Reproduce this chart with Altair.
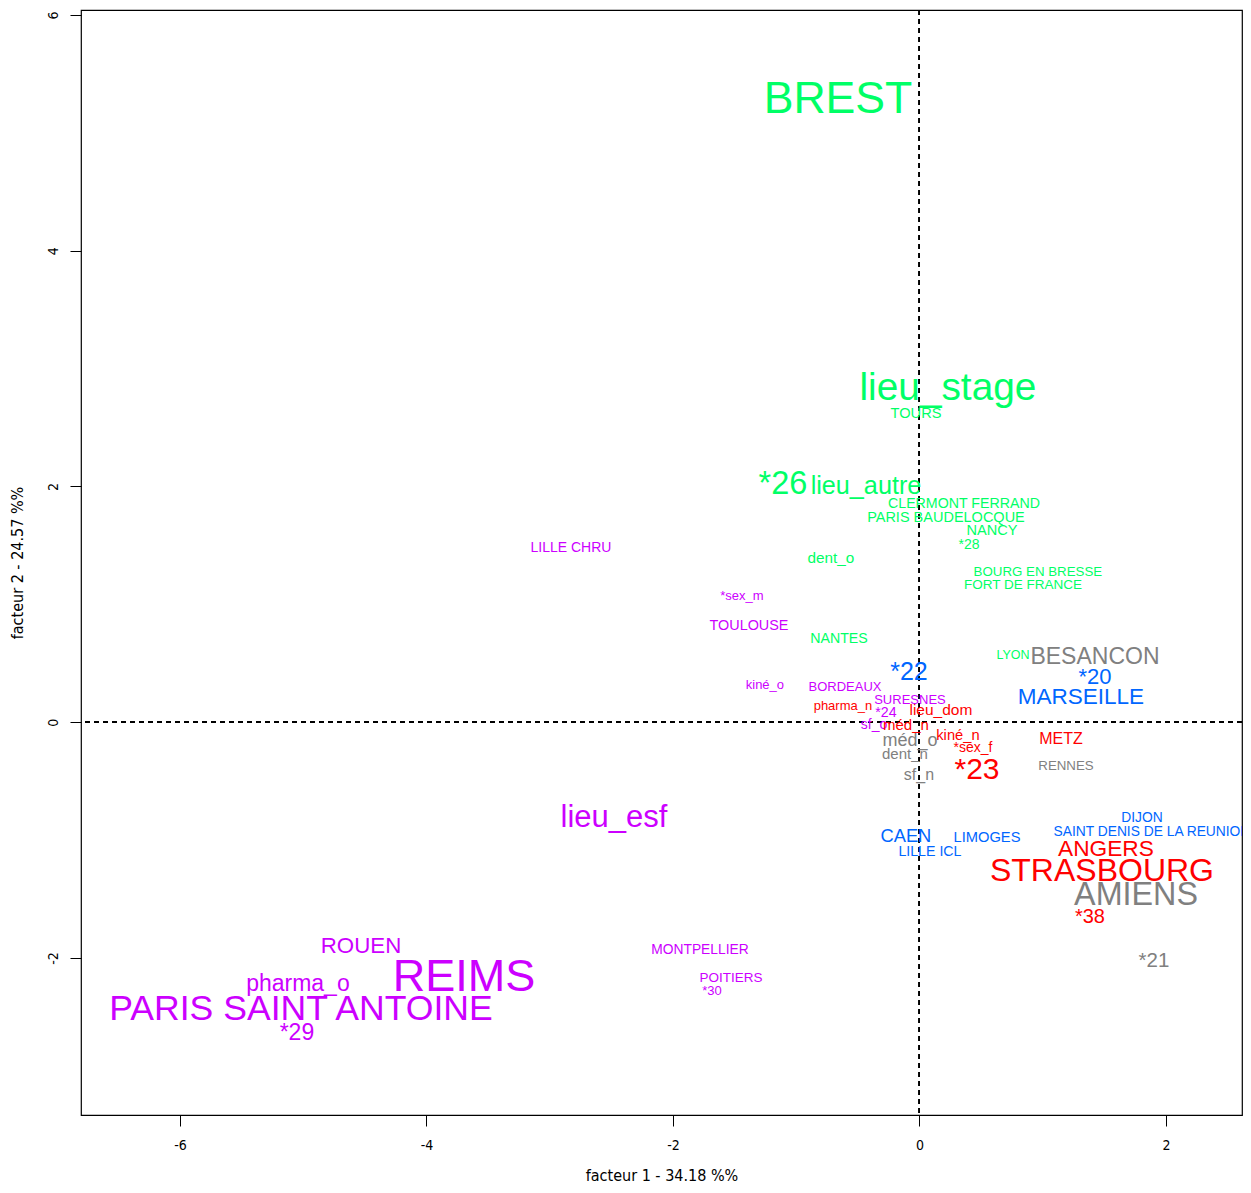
import altair as alt
import pandas as pd

# Labels of the factor map (facteur 1 / facteur 2)
labels = [
    "BREST", "lieu_stage", "TOURS", "*26", "lieu_autre", "CLERMONT FERRAND",
    "PARIS BAUDELOCQUE", "NANCY", "*28", "BOURG EN BRESSE", "FORT DE FRANCE",
    "dent_o", "NANTES", "LYON", "BESANCON", "*20", "MARSEILLE", "*22",
    "LILLE CHRU", "*sex_m", "TOULOUSE", "kiné_o", "BORDEAUX", "SURESNES",
    "pharma_n", "*24", "lieu_dom", "sf_o", "méd_n", "méd_o", "kiné_n",
    "dent_n", "*sex_f", "*23", "sf_n", "METZ", "RENNES", "lieu_esf", "CAEN",
    "LIMOGES", "LILLE ICL", "DIJON", "SAINT DENIS DE LA REUNION", "ANGERS",
    "STRASBOURG", "AMIENS", "*38", "*21", "ROUEN", "REIMS", "pharma_o",
    "PARIS SAINT ANTOINE", "*29", "MONTPELLIER", "POITIERS", "*30",
]
facteur1 = [
    -0.661, 0.231, -0.028, -1.108, -0.434, 0.361,
    0.215, 0.588, 0.402, 0.961, 0.840,
    -0.718, -0.653, 0.759, 1.424, 1.424, 1.310, -0.085,
    -2.828, -1.440, -1.383, -1.254, -0.604, -0.077,
    -0.621, -0.272, 0.174, -0.369, -0.110, -0.077, 0.312,
    -0.118, 0.434, 0.467, -0.004, 1.148, 1.189, -2.479, -0.110,
    0.548, 0.085, 1.805, 1.886, 1.513,
    1.481, 1.757, 1.383, 1.903, -4.531, -3.696, -5.043,
    -5.018, -5.051, -1.781, -1.529, -1.684,
]
facteur2 = [
    5.280, 2.836, 2.615, 2.021, 2.004, 1.852,
    1.733, 1.623, 1.504, 1.275, 1.165,
    1.394, 0.707, 0.571, 0.554, 0.384, 0.214, 0.426,
    1.479, 1.071, 0.817, 0.316, 0.299, 0.189,
    0.138, 0.079, 0.104, -0.023, -0.023, -0.159, -0.117,
    -0.269, -0.218, -0.405, -0.447, -0.142, -0.371, -0.812, -0.973,
    -0.982, -1.101, -0.812, -0.931, -1.076,
    -1.262, -1.466, -1.653, -2.026, -1.898, -2.161, -2.220,
    -2.432, -2.636, -1.932, -2.170, -2.281,
]
# cluster of each label (1 red, 2 green, 3 blue, 4 magenta, 5 gray)
classe = [
    2, 2, 2, 2, 2, 2,
    2, 2, 2, 2, 2,
    2, 2, 2, 5, 3, 3, 3,
    4, 4, 4, 4, 4, 4,
    1, 4, 1, 4, 1, 5, 1,
    5, 1, 1, 5, 1, 5, 4, 3,
    3, 3, 3, 3, 1,
    1, 5, 1, 5, 4, 4, 4,
    4, 4, 4, 4, 4,
]
# contribution (drawn as text size)
contrib = [
    44.6, 38.8, 14.6, 32.5, 25.2, 14.2,
    14.5, 14.6, 14, 13.3, 13.5,
    15.3, 14.2, 12.5, 23, 22, 22.5, 25,
    14, 13, 14.4, 13, 13, 13,
    13, 14.2, 15.5, 14, 15, 18, 14.7,
    15, 14, 30, 16, 16, 13.3, 31, 18.3,
    14.7, 14.2, 13.8, 13.8, 22.7,
    32, 32.3, 20, 20.5, 22.3, 45, 23,
    35.6, 23, 13.8, 13.5, 13,
]

classes = [1, 2, 3, 4, 5]
couleurs = ["#FF0000", "#00FF66", "#0066FF", "#CC00FF", "#808080"]

df = pd.DataFrame({
    "label": labels,
    "f1": facteur1,
    "f2": facteur2,
    "classe": classe,
    "contrib": contrib,
})

axis_font = "Liberation Sans Narrow, Arial Narrow, DejaVu Sans Condensed, Liberation Sans, sans-serif"

xscale = alt.Scale(domain=[-6.803, 2.617], nice=False, zero=False)
yscale = alt.Scale(domain=[-3.332, 6.042], nice=False, zero=False)

text = alt.Chart(df).mark_text(
    font="Liberation Sans", align="center", baseline="middle", clip=True
).encode(
    x=alt.X("f1:Q", scale=xscale, axis=alt.Axis(
        values=[-6, -4, -2, 0, 2], grid=False, domain=False,
        tickSize=11, tickColor="black", labelPadding=12,
        labelFont=axis_font, labelFontSize=14, labelColor="black",
        labelExpr="datum.value",
        title="facteur  1  - 34.18 %%", titleFont=axis_font, titleFontSize=16,
        titleFontWeight="normal", titleColor="black",
        titleY=65, titleBaseline="alphabetic",
    )),
    y=alt.Y("f2:Q", scale=yscale, axis=alt.Axis(
        values=[-2, 0, 2, 4, 6], grid=False, domain=False,
        tickSize=11, tickColor="black", labelPadding=10,
        labelAngle=-90, labelAlign="center", labelBaseline="bottom",
        labelFont=axis_font, labelFontSize=14, labelColor="black",
        labelExpr="datum.value",
        title="facteur 2 - 24.57 %%", titleFont=axis_font, titleFontSize=16,
        titleFontWeight="normal", titleColor="black",
        titleX=-64, titleBaseline="middle", titleAngle=-90,
    )),
    text=alt.Text("label:N"),
    color=alt.Color("classe:N", scale=alt.Scale(domain=classes, range=couleurs), legend=None),
    size=alt.Size("contrib:Q", scale=None, legend=None),
)

vline = alt.Chart(df).mark_rule(color="black", strokeDash=[5, 4], strokeWidth=1).encode(
    x=alt.datum(0)
)
hline = alt.Chart(df).mark_rule(color="black", strokeDash=[5, 4], strokeWidth=1).encode(
    y=alt.datum(0)
)

chart = alt.layer(vline, hline, text).properties(
    width=1161, height=1105,
    autosize=alt.AutoSizeParams(type="none"),
    padding={"left": 73, "top": 2, "right": 1, "bottom": 69},
    background="white",
).configure_view(stroke="black", strokeWidth=1.2)

chart.save("out.html", embed_options={"renderer": "svg", "actions": False})
